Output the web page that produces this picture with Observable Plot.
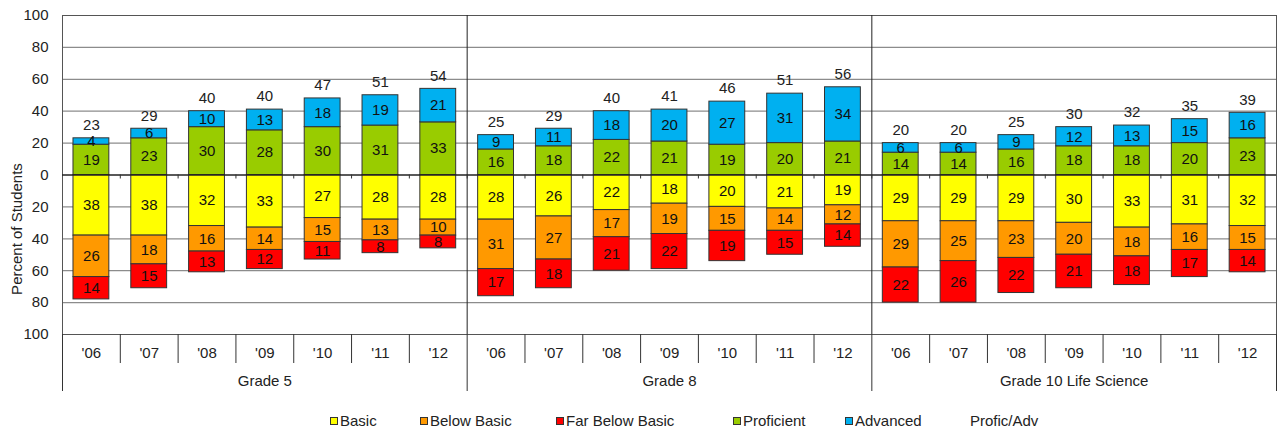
<!DOCTYPE html>
<html>
<head>
<meta charset="utf-8">
<script src="https://cdn.jsdelivr.net/npm/d3@7"></script>
<script src="https://cdn.jsdelivr.net/npm/@observablehq/plot@0.6"></script>
<style>
  html, body { margin: 0; padding: 0; background: #fff; }
  #wrap { position: relative; width: 1280px; height: 433px; font-family: "Liberation Sans", Arial, sans-serif; color: #222; }
  #legend { position: absolute; left: 0; top: 400px; width: 1280px; height: 33px; font-size: 15px; }
  .item { position: absolute; top: 12px; height: 18px; line-height: 18px; display: flex; align-items: center; white-space: nowrap; }
  .sw { width: 6px; height: 6px; border: 1px solid #333; margin-right: 2px; }
</style>
</head>
<body>
<div id="wrap"><div id="chart"></div><div id="legend"></div></div>
<script>
// ---- data ----
const groups = ["Grade 5", "Grade 8", "Grade 10 Life Science"];
const years = ["'06", "'07", "'08", "'09", "'10", "'11", "'12"];
const levels = ["Basic", "Below Basic", "Far Below Basic", "Proficient", "Advanced"];
const legendNames = ["Basic", "Below Basic", "Far Below Basic", "Proficient", "Advanced", "Profic/Adv"];

// values per bar: Grade 5 ('06..'12), Grade 8 ('06..'12), Grade 10 Life Science ('06..'12)
const advanced      = [4, 6, 10, 13, 18, 19, 21,   9, 11, 18, 20, 27, 31, 34,   6, 6, 9, 12, 13, 15, 16];
const proficient    = [19, 23, 30, 28, 30, 31, 33, 16, 18, 22, 21, 19, 20, 21,  14, 14, 16, 18, 18, 20, 23];
const basic         = [38, 38, 32, 33, 27, 28, 28, 28, 26, 22, 18, 20, 21, 19,  29, 29, 29, 30, 33, 31, 32];
const belowBasic    = [26, 18, 16, 14, 15, 13, 10, 31, 27, 17, 19, 15, 14, 12,  29, 25, 23, 20, 18, 16, 15];
const farBelowBasic = [14, 15, 13, 12, 11, 8, 8,   17, 18, 21, 22, 19, 15, 14,  22, 26, 22, 21, 18, 17, 14];
const proficAdv     = [23, 29, 40, 40, 47, 51, 54, 25, 29, 40, 41, 46, 51, 56,  20, 20, 25, 30, 32, 35, 39];
const yTicks = [-100, -80, -60, -40, -20, 0, 20, 40, 60, 80, 100];

// ---- styling / layout ----
const colors = ["#FFFF00", "#FF9900", "#FF0000", "#99CC00", "#00B0F0"];
const W = 1280, H = 400, mL = 62, mR = 4, mT = 15, mB = 66;
const FS = 15;
const step = (W - mL - mR) / (groups.length * years.length);

// ---- build table ----
const keys = [];
groups.forEach(g => years.forEach(y => keys.push(g + "|" + y)));
const rows = [];
keys.forEach((k, i) => {
  rows.push({key: k, level: "Basic", value: -basic[i], label: basic[i]});
  rows.push({key: k, level: "Below Basic", value: -belowBasic[i], label: belowBasic[i]});
  rows.push({key: k, level: "Far Below Basic", value: -farBelowBasic[i], label: farBelowBasic[i]});
  rows.push({key: k, level: "Proficient", value: proficient[i], label: proficient[i]});
  rows.push({key: k, level: "Advanced", value: advanced[i], label: advanced[i]});
});
const groupEnds = [keys[6], keys[13], keys[20]];
const groupMids = [keys[3], keys[10], keys[17]];
const grid = yTicks.filter(d => d !== 0 && Math.abs(d) !== 100);

const chart = Plot.plot({
  width: W, height: H,
  marginLeft: mL, marginRight: mR, marginTop: mT, marginBottom: mB,
  style: {fontFamily: "'Liberation Sans', Arial, sans-serif", fontSize: FS + "px", color: "#222", background: "#fff", overflow: "visible"},
  x: {domain: keys, paddingInner: 0.38, paddingOuter: 0.19, round: false},
  y: {domain: [-100, 100]},
  color: {domain: levels, range: colors},
  marks: [
    Plot.ruleY(grid, {stroke: "#8c8c8c", strokeWidth: 1.3}),
    Plot.frame({stroke: "#555"}),
    Plot.ruleX(groupEnds.slice(0, 2), {x: d => d, dx: step / 2, stroke: "#222"}),
    Plot.barY(rows, Plot.stackY({x: "key", y: "value", z: "level", fill: "level", stroke: "#333", strokeWidth: 1})),
    Plot.ruleY([0], {stroke: "#222", strokeWidth: 1.3}),
    Plot.ruleX(keys.slice(0, -1), {x: d => d, y1: 0, y2: -2.5, dx: step / 2, stroke: "#333"}),
    Plot.text(rows, Plot.stackY({x: "key", y: "value", z: "level", text: "label", fill: "#111", fontSize: FS})),
    Plot.text(keys, {x: d => d, y: (d, i) => proficient[i] + advanced[i], text: (d, i) => proficAdv[i], dy: -13, fill: "#222", fontSize: FS}),
    Plot.axisY({ticks: yTicks, tickFormat: d => Math.abs(d), tickSize: 0, tickPadding: 14, label: null, fontSize: FS}),
    Plot.text(["Percent of Students"], {frameAnchor: "left", textAnchor: "middle", rotate: -90, dx: -45, dy: 54, fill: "#222", fontSize: FS}),
    Plot.axisX({tickSize: 0, tickPadding: 13, tickFormat: k => k.split("|")[1], label: null, fontSize: FS}),
    Plot.axisX({ticks: keys.filter(k => !groupEnds.includes(k)), tickSize: 29, tickFormat: () => "", dx: step / 2, label: null, stroke: "#333"}),
    Plot.axisX({ticks: [keys[0]], tickSize: 57, tickFormat: () => "", dx: -step / 2, label: null, stroke: "#333"}),
    Plot.axisX({ticks: groupEnds, tickSize: 57, tickFormat: () => "", dx: step / 2, label: null, stroke: "#333"}),
    Plot.axisX({ticks: groupMids, tickSize: 0, tickPadding: 41, tickFormat: k => k.split("|")[0], label: null, fontSize: FS})
  ]
});
document.getElementById("chart").appendChild(chart);

// ---- legend ----
const legendLeft = [330, 420, 556, 733, 845, 960];
const legendColors = [...colors, null];
const leg = document.getElementById("legend");
legendNames.forEach((name, i) => {
  const it = document.createElement("div");
  it.className = "item";
  it.style.left = legendLeft[i] + "px";
  const sw = document.createElement("span");
  sw.className = "sw";
  if (legendColors[i]) sw.style.background = legendColors[i];
  else { sw.style.border = "none"; sw.style.width = "8px"; }
  const t = document.createElement("span");
  t.textContent = name;
  it.appendChild(sw); it.appendChild(t);
  leg.appendChild(it);
});
</script>
</body>
</html>
